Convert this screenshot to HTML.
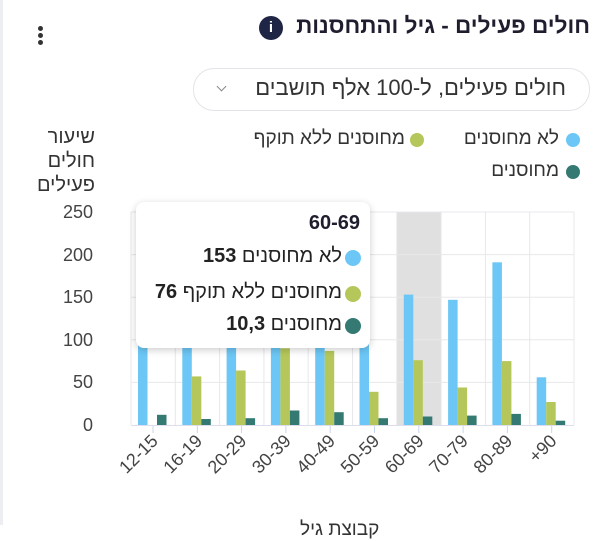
<!DOCTYPE html>
<html><head><meta charset="utf-8"><style>
body{margin:0;width:604px;height:525px;background:#fff;overflow:hidden;position:relative;font-family:"Liberation Sans","Noto Sans CJK SC",sans-serif;color:#222}
.a{position:absolute;white-space:nowrap}
.r{direction:rtl}
</style></head><body>
<div class="a" style="left:0;top:0;width:3px;height:525px;background:#eceef2"></div>
<div class="a r" style="right:14px;top:13px;font-size:22.5px;font-weight:bold;color:#1e1e2e">חולים פעילים - גיל והתחסנות</div>
<div class="a" style="left:259px;top:16px;width:24px;height:24px;border-radius:50%;background:#1f2544;color:#fff;font-size:15px;font-weight:bold;text-align:center;line-height:24px">i</div>
<div class="a" style="left:38px;top:26px;width:5px;height:5px;border-radius:50%;background:#333;box-shadow:0 7px 0 #333,0 14px 0 #333"></div>
<div class="a" style="left:193px;top:68px;width:395px;height:41px;border:1px solid #e2e4ea;border-radius:21px"></div>
<div class="a r" style="right:38px;top:75px;font-size:22px;color:#333">חולים פעילים, ל-100 אלף תושבים</div>
<div class="a" style="left:218px;top:83px;width:6px;height:6px;border-right:1.5px solid #888;border-bottom:1.5px solid #888;transform:rotate(45deg)"></div>
<div class="a" style="left:566px;top:133px;width:14px;height:14px;border-radius:50%;background:#6cc7f6"></div>
<div class="a r" style="right:45px;top:128px;font-size:19px;color:#333">לא מחוסנים</div>
<div class="a" style="left:410px;top:133px;width:14px;height:14px;border-radius:50%;background:#b5c75a"></div>
<div class="a r" style="right:199px;top:128px;font-size:19px;color:#333">מחוסנים ללא תוקף</div>
<div class="a" style="left:566px;top:165px;width:14px;height:14px;border-radius:50%;background:#347a72"></div>
<div class="a r" style="right:45px;top:160px;font-size:19px;color:#333">מחוסנים</div>
<div class="a r" style="right:509px;top:125px;font-size:20px;line-height:24px;text-align:right;color:#333">שיעור<br>חולים<br>פעילים</div>
<svg class="a" style="left:0;top:0" width="604" height="525">
<rect x="396.8" y="212" width="44.3" height="213" fill="#e0e0e0"/>
<g stroke="#e8e8ec" stroke-width="1">
<line x1="131" x2="574" y1="382.4" y2="382.4"/><line x1="131" x2="574" y1="339.8" y2="339.8"/><line x1="131" x2="574" y1="297.2" y2="297.2"/><line x1="131" x2="574" y1="254.6" y2="254.6"/><line x1="131" x2="574" y1="212" y2="212"/>
<line x1="131" x2="131" y1="212" y2="425"/><line x1="175.3" x2="175.3" y1="212" y2="425"/><line x1="219.6" x2="219.6" y1="212" y2="425"/><line x1="263.9" x2="263.9" y1="212" y2="425"/><line x1="308.2" x2="308.2" y1="212" y2="425"/><line x1="352.5" x2="352.5" y1="212" y2="425"/><line x1="396.8" x2="396.8" y1="212" y2="425"/><line x1="441.1" x2="441.1" y1="212" y2="425"/><line x1="485.4" x2="485.4" y1="212" y2="425"/><line x1="529.7" x2="529.7" y1="212" y2="425"/><line x1="574" x2="574" y1="212" y2="425"/>
</g>
<g fill="#6cc7f6">
<rect x="138" y="300" width="9.5" height="125"/><rect x="182.3" y="300" width="9.5" height="125"/><rect x="226.6" y="300" width="9.5" height="125"/><rect x="270.9" y="300" width="9.5" height="125"/><rect x="315.2" y="300" width="9.5" height="125"/><rect x="359.5" y="300" width="9.5" height="125"/><rect x="403.8" y="294.6" width="9.5" height="130.4"/><rect x="448.1" y="299.8" width="9.5" height="125.2"/><rect x="492.4" y="262.3" width="9.5" height="162.7"/><rect x="536.7" y="377.3" width="9.5" height="47.7"/>
</g>
<g fill="#b5c75a">
<rect x="191.8" y="376.4" width="9.5" height="48.6"/><rect x="236.1" y="370.5" width="9.5" height="54.5"/><rect x="280.4" y="348.3" width="9.5" height="76.7"/><rect x="324.7" y="350.9" width="9.5" height="74.1"/><rect x="369" y="391.8" width="9.5" height="33.2"/><rect x="413.3" y="360.2" width="9.5" height="64.8"/><rect x="457.6" y="387.5" width="9.5" height="37.5"/><rect x="501.9" y="361.1" width="9.5" height="63.9"/><rect x="546.2" y="402" width="9.5" height="23"/>
</g>
<g fill="#347a72">
<rect x="157" y="414.8" width="9.5" height="10.2"/><rect x="201.3" y="419" width="9.5" height="6"/><rect x="245.6" y="418.2" width="9.5" height="6.8"/><rect x="289.9" y="410.5" width="9.5" height="14.5"/><rect x="334.2" y="412.2" width="9.5" height="12.8"/><rect x="378.5" y="418.2" width="9.5" height="6.8"/><rect x="422.8" y="416.5" width="9.5" height="8.5"/><rect x="467.1" y="415.6" width="9.5" height="9.4"/><rect x="511.4" y="413.9" width="9.5" height="11.1"/><rect x="555.7" y="420.7" width="9.5" height="4.3"/>
</g>
<line x1="131" x2="574" y1="425.5" y2="425.5" stroke="#dde" />
<g stroke="#c8d4ee"><line x1="153" x2="153" y1="426" y2="433"/><line x1="197.3" x2="197.3" y1="426" y2="433"/><line x1="241.6" x2="241.6" y1="426" y2="433"/><line x1="285.9" x2="285.9" y1="426" y2="433"/><line x1="330.2" x2="330.2" y1="426" y2="433"/><line x1="374.5" x2="374.5" y1="426" y2="433"/><line x1="418.8" x2="418.8" y1="426" y2="433"/><line x1="463.1" x2="463.1" y1="426" y2="433"/><line x1="507.4" x2="507.4" y1="426" y2="433"/><line x1="551.7" x2="551.7" y1="426" y2="433"/></g>
<g font-family="Liberation Sans, sans-serif" font-size="18" fill="#444" text-anchor="end">
<text x="93" y="431">0</text><text x="93" y="388">50</text><text x="93" y="346">100</text><text x="93" y="303">150</text><text x="93" y="261">200</text><text x="93" y="218">250</text>
</g>
<g font-family="Liberation Sans, sans-serif" font-size="18" fill="#444" text-anchor="end">
<text transform="translate(159,442) rotate(-45)">12-15</text><text transform="translate(203.3,442) rotate(-45)">16-19</text><text transform="translate(247.6,442) rotate(-45)">20-29</text><text transform="translate(291.9,442) rotate(-45)">30-39</text><text transform="translate(336.2,442) rotate(-45)">40-49</text><text transform="translate(380.5,442) rotate(-45)">50-59</text><text transform="translate(424.8,442) rotate(-45)">60-69</text><text transform="translate(469.1,442) rotate(-45)">70-79</text><text transform="translate(513.4,442) rotate(-45)">80-89</text><text transform="translate(557.7,442) rotate(-45)">+90</text>
</g>
</svg>
<div class="a r" style="left:300px;top:519px;font-size:19px;color:#333">קבוצת גיל</div>
<div class="a" style="left:136px;top:202px;width:234px;height:146px;background:#fff;border-radius:8px;box-shadow:0 2px 8px rgba(0,0,0,0.2)"></div>
<div class="a r" style="right:244px;top:212px;font-size:20px;font-weight:bold;color:#1e1e2e">60-69</div>
<div class="a" style="left:345px;top:250px;width:16px;height:16px;border-radius:50%;background:#6cc7f6"></div>
<div class="a r" style="right:262px;top:245px;font-size:20px;color:#222">לא מחוסנים <b>153</b></div>
<div class="a" style="left:345px;top:286px;width:16px;height:16px;border-radius:50%;background:#b5c75a"></div>
<div class="a r" style="right:262px;top:281px;font-size:20px;color:#222">מחוסנים ללא תוקף <b>76</b></div>
<div class="a" style="left:345px;top:318px;width:16px;height:16px;border-radius:50%;background:#347a72"></div>
<div class="a r" style="right:262px;top:313px;font-size:20px;color:#222">מחוסנים <b>10,3</b></div>
</body></html>
